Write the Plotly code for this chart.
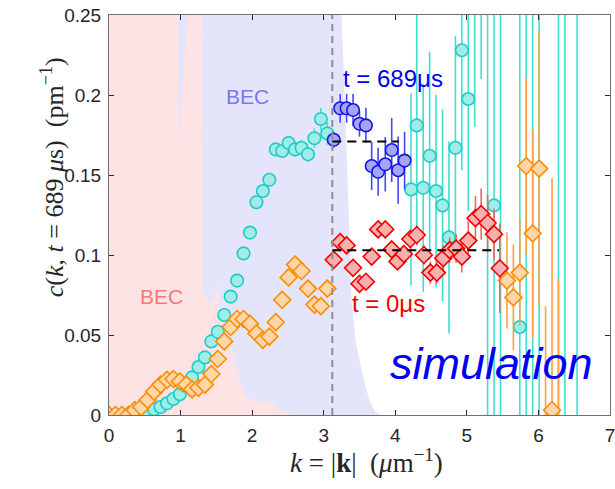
import plotly.graph_objects as go

# ---------------- data ----------------
# full series, t = 689 us (cyan circles)
k_cyan_a = [0, 0.09, 0.18, 0.27, 0.36, 0.45, 0.54, 0.63, 0.72, 0.81, 0.90, 0.99, 1.08, 1.16, 1.25,
            1.34, 1.43, 1.52, 1.61, 1.70, 1.79, 1.88, 1.97, 2.06, 2.15, 2.24, 2.33, 2.42, 2.51, 2.60,
            2.69, 2.78, 2.87, 2.96, 3.05]
c_cyan_a = [0, 0, 0, 0, 0.0005, 0.001, 0.002, 0.0035, 0.005, 0.0073, 0.010, 0.013, 0.018, 0.0235, 0.030,
            0.036, 0.046, 0.052, 0.0625, 0.074, 0.084, 0.101, 0.114, 0.133, 0.140, 0.147, 0.166, 0.165, 0.170, 0.166,
            0.167, 0.163, 0.173, 0.185, 0.176]
e_cyan_a = [0, 0, 0, 0, 0.0005, 0.0005, 0.0008, 0.001, 0.001, 0.001, 0.0015, 0.0015, 0.002, 0.002, 0.002,
            0.002, 0.0025, 0.0025, 0.003, 0.003, 0.003, 0.003, 0.0035, 0.0035, 0.004, 0.004, 0.004, 0.004, 0.0045, 0.0045,
            0.005, 0.005, 0.006, 0.007, 0.007]
k_cyan_b = [4.22, 4.30, 4.39, 4.48, 4.57, 4.66, 4.75, 4.84, 4.93, 5.02, 5.11, 5.20, 5.29, 5.38, 5.47,
            5.74, 5.83, 5.92, 6.01, 6.28, 6.37, 6.54]
c_cyan_b = [0.141, 0.181, 0.142, 0.162, 0.140, 0.131, 0.111, 0.167, 0.228, 0.1975, 0.33, 0.34, 0.30, 0.131, 0.30,
            0.055, 0.30, 0.30, 0.30, 0.30, 0.30, 0.30]
e_cyan_b = [0.06, 0.07, 0.065, 0.065, 0.06, 0.06, 0.06, 0.07, 0.075, 0.07, 0.15, 0.13, 0.4, 0.3, 0.4,
            0.3, 0.4, 0.4, 0.4, 0.4, 0.4, 0.4]

# averaging window, t = 689 us (blue circles)
k_blue = [3.14, 3.23, 3.32, 3.41, 3.50, 3.59, 3.67, 3.76, 3.86, 3.95, 4.04, 4.13]
c_blue = [0.172, 0.1917, 0.1917, 0.1906, 0.182, 0.181, 0.1556, 0.152, 0.1567, 0.1656, 0.153, 0.159]
e_blue = [0.005, 0.009, 0.009, 0.010, 0.008, 0.011, 0.015, 0.015, 0.017, 0.020, 0.021, 0.018]

# full series, t = 0 us (orange diamonds)
k_orange_a = [0, 0.09, 0.18, 0.27, 0.36, 0.45, 0.54, 0.63, 0.72, 0.81, 0.90, 0.99, 1.08, 1.16, 1.25,
              1.34, 1.43, 1.52, 1.61, 1.70, 1.79, 1.88, 1.97, 2.06, 2.15, 2.24, 2.33, 2.42, 2.51, 2.60,
              2.69, 2.78, 2.87, 2.96, 3.05]
c_orange_a = [0, 0, 0, 0, 0.003, 0.005, 0.0094, 0.0146, 0.019, 0.022, 0.0225, 0.021, 0.019, 0.016, 0.017,
              0.019, 0.0256, 0.035, 0.046, 0.055, 0.060, 0.060, 0.057, 0.051, 0.047, 0.049, 0.058, 0.072, 0.086, 0.094,
              0.090, 0.079, 0.069, 0.068, 0.079]
k_orange_b = [5.56, 5.65, 5.74, 5.83, 5.92, 6.01, 6.10, 6.19, 6.28]
c_orange_b = [0.084, 0.0735, 0.089, 0.1556, 0.1135, 0.154, -0.06, 0.003, -0.10]
e_orange_b = [0.030, 0.033, 0.033, 0.055, 0.065, 0.086, 0.128, 0.145, 0.185]

# averaging window, t = 0 us (red diamonds)
k_red = [3.14, 3.23, 3.32, 3.41, 3.50, 3.59, 3.67, 3.76, 3.86, 3.95, 4.03, 4.12, 4.21, 4.30, 4.40,
         4.49, 4.58, 4.67, 4.76, 4.85, 4.93, 5.02, 5.12, 5.20, 5.29, 5.38, 5.46]
c_red = [0.097, 0.108, 0.106, 0.092, 0.082, 0.0833, 0.099, 0.116, 0.116, 0.1035, 0.096, 0.1006, 0.110, 0.1125, 0.100,
         0.089, 0.089, 0.098, 0.103, 0.104, 0.099, 0.109, 0.123, 0.1256, 0.120, 0.113, 0.0917]
e_red = [0.002, 0.002, 0.003, 0.003, 0.003, 0.003, 0.004, 0.004, 0.005, 0.005, 0.005, 0.005, 0.006, 0.006, 0.006,
         0.007, 0.007, 0.008, 0.008, 0.009, 0.010, 0.012, 0.014, 0.016, 0.018, 0.016, 0.028]

# BEC density profiles (shaded)
k_bec0 = [0, 0.96, 0.97, 1.19, 1.29, 1.30, 1.40, 1.47, 1.51, 1.55, 1.62, 1.68, 1.72, 1.80, 1.90, 2.00,
          2.15, 2.28, 2.35, 2.50, 2.70]
c_bec0 = [0.30, 0.30, 0.17, 0.30, 0.30, 0.08, 0.07, 0.072, 0.084, 0.062, 0.056, 0.054, 0.040, 0.025, 0.011, 0.009,
          0.0085, 0.008, 0.003, 0.001, 0]
k_bec689 = [0, 3.25, 3.30, 3.35, 3.39, 3.45, 3.52, 3.58, 3.65, 3.72, 3.80]
c_bec689 = [0.30, 0.25, 0.19, 0.122, 0.072, 0.045, 0.030, 0.018, 0.008, 0.002, 0]

k_split = 3.12
avg_689 = {"k": [3.12, 4.05], "c": [0.171, 0.171]}
avg_0 = {"k": [3.12, 5.45], "c": [0.103, 0.103]}

x_ticks = [0, 1, 2, 3, 4, 5, 6, 7]
y_ticks = [0, 0.05, 0.1, 0.15, 0.2, 0.25]
y_tick_text = ["0", "0.05", "0.1", "0.15", "0.2", "0.25"]

# ---------------- figure ----------------
fig = go.Figure()

fig.add_trace(go.Scatter(x=k_bec689, y=c_bec689, mode="lines", line=dict(width=0),
                         fill="tozeroy", fillcolor="rgb(228,228,251)", hoverinfo="skip"))
fig.add_trace(go.Scatter(x=k_bec0, y=c_bec0, mode="lines", line=dict(width=0),
                         fill="tozeroy", fillcolor="rgb(253,227,227)", hoverinfo="skip"))

fig.add_shape(type="line", x0=k_split, x1=k_split, y0=0, y1=0.25, xref="x", yref="y",
              line=dict(color="#8f8f8f", width=2, dash="7px,5px"))

cyan_edge = "rgb(30,205,200)"
cyan_fill = "rgb(160,236,230)"
cyan_bar = "rgb(64,224,208)"
orange_edge = "rgb(255,140,0)"
orange_fill = "rgb(255,214,170)"
orange_bar = "rgb(255,160,60)"

fig.add_trace(go.Scatter(x=k_cyan_a + k_cyan_b, y=c_cyan_a + c_cyan_b, mode="markers",
                         error_y=dict(type="data", array=e_cyan_a + e_cyan_b, color=cyan_bar, thickness=1.6, width=0),
                         marker=dict(symbol="circle", size=12.5, color=cyan_fill, line=dict(color=cyan_edge, width=1.6))))
fig.add_trace(go.Scatter(x=k_orange_a, y=c_orange_a, mode="markers",
                         marker=dict(symbol="diamond", size=13, color=orange_fill, line=dict(color=orange_edge, width=1.6))))
fig.add_trace(go.Scatter(x=k_orange_b, y=c_orange_b, mode="markers",
                         error_y=dict(type="data", array=e_orange_b, color=orange_bar, thickness=1.6, width=0),
                         marker=dict(symbol="diamond", size=13, color=orange_fill, line=dict(color=orange_edge, width=1.6))))
fig.add_trace(go.Scatter(x=k_blue, y=c_blue, mode="markers",
                         error_y=dict(type="data", array=e_blue, color="rgb(70,70,240)", thickness=1.6, width=0),
                         marker=dict(symbol="circle", size=12.5, color="rgb(165,165,245)",
                                     line=dict(color="rgb(20,20,230)", width=1.6))))
fig.add_trace(go.Scatter(x=k_red, y=c_red, mode="markers",
                         error_y=dict(type="data", array=e_red, color="rgb(240,100,100)", thickness=1.6, width=0),
                         marker=dict(symbol="diamond", size=13, color="rgb(250,175,175)",
                                     line=dict(color="rgb(240,0,0)", width=1.6))))

fig.add_trace(go.Scatter(x=avg_689["k"], y=avg_689["c"], mode="lines",
                         line=dict(color="black", width=2, dash="9px,6px")))
fig.add_trace(go.Scatter(x=avg_0["k"], y=avg_0["c"], mode="lines",
                         line=dict(color="black", width=2, dash="9px,6px")))

ann = [
    dict(x=0.73, y=0.074, text="BEC", font=dict(size=21, color="rgb(248,120,120)", family="Liberation Sans")),
    dict(x=1.93, y=0.199, text="BEC", font=dict(size=21, color="rgb(120,120,240)", family="Liberation Sans")),
    dict(x=3.97, y=0.2106, text="t = 689μs", font=dict(size=24, color="rgb(0,0,240)", family="Liberation Sans")),
    dict(x=3.90, y=0.070, text="t = 0μs", font=dict(size=24, color="rgb(240,0,0)", family="Liberation Sans")),
    dict(x=5.35, y=0.0325, text="<i>simulation</i>", font=dict(size=45, color="rgb(0,0,245)", family="Liberation Sans")),
]
for a in ann:
    a.update(xref="x", yref="y", showarrow=False, xanchor="center", yanchor="middle")
    fig.add_annotation(**a)

fig.add_annotation(x=369, y=480, xref="paper", yref="paper", showarrow=False,
                   text="<i>k</i> = |<b>k</b>|  (<i>μ</i>m<sup>−1</sup>)",
                   font=dict(size=27, family="Liberation Serif", color="#262626"))
fig.add_annotation(x=33, y=177, xref="paper", yref="paper", showarrow=False, textangle=-90,
                   text="<i>c</i>(<i>k</i>, <i>t</i> = 689 <i>μ</i>s)  (pm<sup>−1</sup>)",
                   font=dict(size=26, family="Liberation Serif", color="#262626"))

W, H = 615, 489
L, R, T, B = 109, 0, 15, 74
# convert pixel positions of the two axis-label annotations into paper coords
for a in fig.layout.annotations[-2:]:
    a.x = (a.x - L) / (W - L - R)
    a.y = 1 - (a.y - T) / (H - T - B)

axis_common = dict(showgrid=False, zeroline=False, showline=True, linecolor="#707070", linewidth=1,
                   mirror="allticks", ticks="inside", ticklen=5, tickcolor="#262626", tickwidth=1,
                   ticklabeloverflow="allow", ticklabelstandoff=3,
                   tickfont=dict(family="Liberation Sans", size=19, color="#262626"))

fig.update_layout(
    width=W, height=H, margin=dict(l=L, r=R, t=T, b=B),
    plot_bgcolor="white", paper_bgcolor="white", showlegend=False,
    xaxis=dict(range=[0, 7], tickvals=x_ticks, ticktext=[str(v) for v in x_ticks], **axis_common),
    yaxis=dict(range=[0, 0.25], tickvals=y_ticks, ticktext=y_tick_text, **axis_common),
)

fig.write_html("out.html")
